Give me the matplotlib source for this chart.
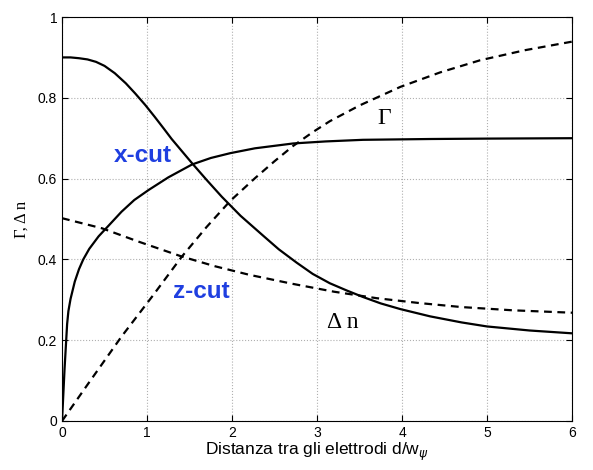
import numpy as np
import matplotlib
matplotlib.use("Agg")
import matplotlib.pyplot as plt

plt.rcParams['font.family'] = ['Liberation Sans', 'DejaVu Sans']

# x-cut (solid lines)
x_dn_x = [0, 0.1, 0.2, 0.3, 0.4, 0.5, 0.62, 0.75, 0.86, 0.98, 1.09, 1.2, 1.29, 1.41, 1.53,
          1.7, 1.88, 2.1, 2.37, 2.55, 2.76, 2.95, 3.15, 3.35, 3.54, 3.75, 3.98, 4.33, 4.7,
          5.0, 5.5, 6.0]
dn_x = [0.900, 0.900, 0.898, 0.895, 0.889, 0.879, 0.861, 0.836, 0.811, 0.782, 0.753, 0.723,
        0.698, 0.668, 0.638, 0.597, 0.555, 0.508, 0.458, 0.425, 0.392, 0.364, 0.341, 0.323,
        0.307, 0.291, 0.277, 0.259, 0.244, 0.234, 0.224, 0.217]

x_g_x = [0, 0.03, 0.06, 0.075, 0.1, 0.15, 0.2, 0.25, 0.32, 0.43, 0.55, 0.70, 0.85, 1.02,
         1.25, 1.53, 1.75, 1.98, 2.27, 2.72, 3.1, 3.54, 4.33, 5.0, 6.0]
g_x = [0, 0.13, 0.24, 0.272, 0.302, 0.345, 0.376, 0.400, 0.426, 0.457, 0.484, 0.518, 0.547,
       0.572, 0.603, 0.635, 0.651, 0.663, 0.675, 0.687, 0.692, 0.696, 0.698, 0.699, 0.70]

# z-cut (dashed lines)
x_g_z = [0, 0.31, 0.70, 1.06, 1.41, 1.7, 1.98, 2.27, 2.5, 2.72, 2.95, 3.15, 3.5, 3.98,
         4.45, 4.92, 5.45, 6.0]
g_z = [0, 0.093, 0.209, 0.308, 0.407, 0.48, 0.545, 0.601, 0.643, 0.681, 0.715, 0.742,
       0.781, 0.827, 0.863, 0.893, 0.918, 0.939]

x_dn_z = [0, 0.47, 0.9, 1.41, 1.8, 2.2, 2.7, 3.2, 3.7, 4.2, 4.7, 5.3, 6.0]
dn_z = [0.502, 0.477, 0.444, 0.407, 0.383, 0.362, 0.340, 0.320, 0.304, 0.292, 0.282,
        0.274, 0.268]

fig = plt.figure(figsize=(5.93, 4.70), dpi=100, facecolor='white')
ax = fig.add_axes([0.1046, 0.1043, 0.86, 0.8595])

lw = 1.6
dash = (0, (3.5, 2.5))
ax.plot(x_dn_x, dn_x, color='black', lw=lw)
ax.plot(x_g_x, g_x, color='black', lw=lw)
ax.plot(x_g_z, g_z, color='black', lw=lw, ls=dash)
ax.plot(x_dn_z, dn_z, color='black', lw=lw, ls=dash)

blue = '#1f3fe0'
ax.text(0.945, 0.657, 'x-cut', color=blue, fontsize=17.5, fontweight='bold',
        ha='center', va='center')
ax.text(1.643, 0.32, 'z-cut', color=blue, fontsize=17.5, fontweight='bold',
        ha='center', va='center')
ax.text(3.30, 0.245, 'Δ n', color='black', fontsize=17, ha='center', va='center',
        family='Liberation Serif')
ax.text(3.79, 0.75, 'Γ', color='black', fontsize=17, ha='center', va='center',
        family='Liberation Serif')

ax.set_xlim(0, 6)
ax.set_ylim(0, 1)
ax.set_xticks(range(7))
ax.set_yticks([0, 0.2, 0.4, 0.6, 0.8, 1])
ax.set_yticklabels(['0', '0.2', '0.4', '0.6', '0.8', '1'])
ax.tick_params(direction='in', length=4, labelsize=10, top=True, right=True)
ax.grid(True, ls=':', color='#b0b0b0', lw=0.8)

ax.set_xlabel(r'Distanza tra gli elettrodi d/w$_\psi$', fontsize=12.5, labelpad=1)
ax.set_ylabel('Γ, Δ n', fontsize=12, labelpad=6, family='Liberation Serif')

fig.savefig('out.png', dpi=100, facecolor=fig.get_facecolor())
